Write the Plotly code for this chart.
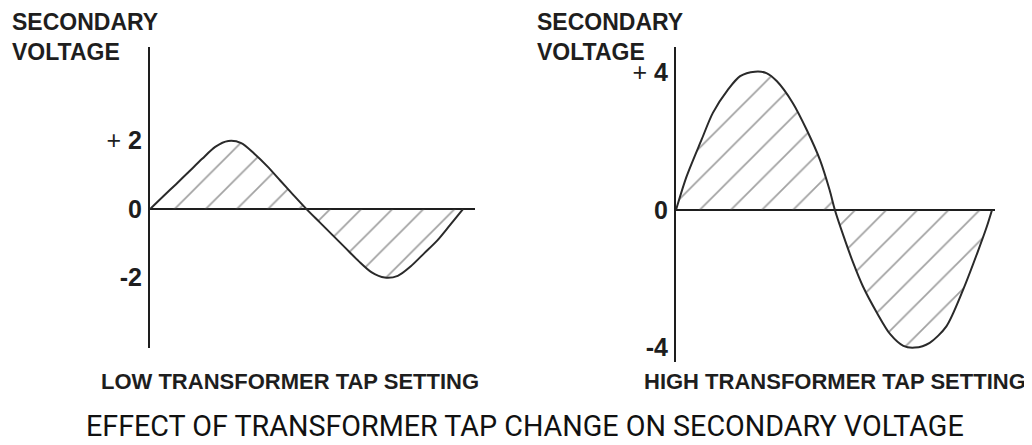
import plotly.graph_objects as go

# ---- data (phase angle in degrees, secondary voltage) ----
low_phase = [0, 15, 30, 45, 60, 75, 90, 105, 120, 135, 150, 165, 180,
             195, 210, 225, 240, 255, 270, 285, 300, 315, 330, 345, 360]
low_volts = [0, 0.37, 0.73, 1.10, 1.47, 1.82, 1.99, 1.93, 1.62, 1.25, 0.83, 0.41, 0,
             -0.38, -0.76, -1.14, -1.52, -1.85, -2.0, -1.95, -1.67, -1.30, -0.93, -0.47, 0]

high_phase = [0, 12, 29, 42, 59, 73, 90, 103, 115, 133, 149, 164, 175, 181,
              191, 202, 213, 229, 244, 259, 272, 289, 308, 327, 343, 354, 360]
high_volts = [0, 0.97, 2.04, 2.83, 3.5, 3.9, 4.03, 3.99, 3.75, 3.12, 2.33, 1.46, 0.58, 0,
              -0.77, -1.55, -2.23, -3.0, -3.62, -3.96, -4.01, -3.87, -3.39, -2.33, -1.27, -0.49, 0]

low_ticks = [2, 0, -2]
low_ticktext = ["+ <b>2</b>", "<b>0</b>", "<b>-2</b>"]
high_ticks = [4, 0, -4]
high_ticktext = ["+ <b>4</b>", "<b>0</b>", "<b>-4</b>"]

axis_label = "SECONDARY<br>VOLTAGE"
low_label = "LOW TRANSFORMER TAP SETTING"
high_label = "HIGH TRANSFORMER TAP SETTING"
title_text = "EFFECT OF TRANSFORMER TAP CHANGE ON SECONDARY VOLTAGE"

# page body has an 8px margin: the figure starts at (8, 8) in the window
OFF = 8
WIN_W, WIN_H = 1032, 445
W, H = WIN_W - OFF, WIN_H - OFF
INK = "#1e1e1e"
BOLD = "Liberation Sans, Arial, sans-serif"
TITLE_FONT = "Roboto, Liberation Sans, sans-serif"


def fx(px):
    return (px - OFF) / W


def fy(py):
    return (WIN_H - py) / H


pattern = dict(shape="/", size=22, solidity=0.08, fgcolor="#444444",
               bgcolor="rgba(0,0,0,0)", fillmode="overlay")

fig = go.Figure()
fig.add_trace(go.Scatter(
    x=low_phase, y=low_volts, mode="lines", fill="tozeroy",
    fillcolor="rgba(0,0,0,0)", fillpattern=pattern,
    line=dict(color="#2a2a2a", width=2, shape="spline", smoothing=0.8),
    xaxis="x", yaxis="y", showlegend=False, hoverinfo="skip"))
fig.add_trace(go.Scatter(
    x=high_phase, y=high_volts, mode="lines", fill="tozeroy",
    fillcolor="rgba(0,0,0,0)", fillpattern=pattern,
    line=dict(color="#2a2a2a", width=2, shape="spline", smoothing=0.8),
    xaxis="x2", yaxis="y2", showlegend=False, hoverinfo="skip"))

xcommon = dict(visible=False, showgrid=False, zeroline=False, fixedrange=True)
ycommon = dict(showgrid=False, showline=True, linewidth=2, linecolor=INK,
               zeroline=True, zerolinewidth=2, zerolinecolor=INK,
               ticks="", ticklabelstandoff=1, fixedrange=True,
               tickfont=dict(family=BOLD, size=25, color=INK))

fig.update_layout(
    width=W, height=H,
    margin=dict(l=0, r=0, t=0, b=0),
    paper_bgcolor="white", plot_bgcolor="white",
    xaxis=dict(domain=[fx(150), fx(475)], range=[0, 373.8], anchor="y", **xcommon),
    yaxis=dict(domain=[fy(348), fy(47)], range=[-4.06, 4.74], anchor="x",
               tickvals=low_ticks, ticktext=low_ticktext, **ycommon),
    xaxis2=dict(domain=[fx(676), fx(995)], range=[0, 363.4], anchor="y2", **xcommon),
    yaxis2=dict(domain=[fy(362), fy(47)], range=[-4.43, 4.75], anchor="x2",
                tickvals=high_ticks, ticktext=high_ticktext, **ycommon),
)

annos = [
    dict(text="<b>" + axis_label + "</b>", x=fx(10), y=fy(37), xanchor="left", yanchor="middle",
         align="left", font=dict(family=BOLD, size=23, color=INK)),
    dict(text="<b>" + axis_label + "</b>", x=fx(535), y=fy(37), xanchor="left", yanchor="middle",
         align="left", font=dict(family=BOLD, size=23, color=INK)),
    dict(text="<b>" + low_label + "</b>", x=fx(290), y=fy(381), xanchor="center", yanchor="middle",
         font=dict(family=BOLD, size=22, color=INK)),
    dict(text="<b>" + high_label + "</b>", x=fx(835), y=fy(381), xanchor="center", yanchor="middle",
         font=dict(family=BOLD, size=22, color=INK)),
    dict(text=title_text, x=fx(525), y=fy(426), xanchor="center", yanchor="middle",
         font=dict(family=TITLE_FONT, size=28.7, color="#111")),
]
for a in annos:
    a.update(xref="paper", yref="paper", showarrow=False)
fig.update_layout(annotations=annos)

fig.write_html("out.html", config={"displayModeBar": False})
